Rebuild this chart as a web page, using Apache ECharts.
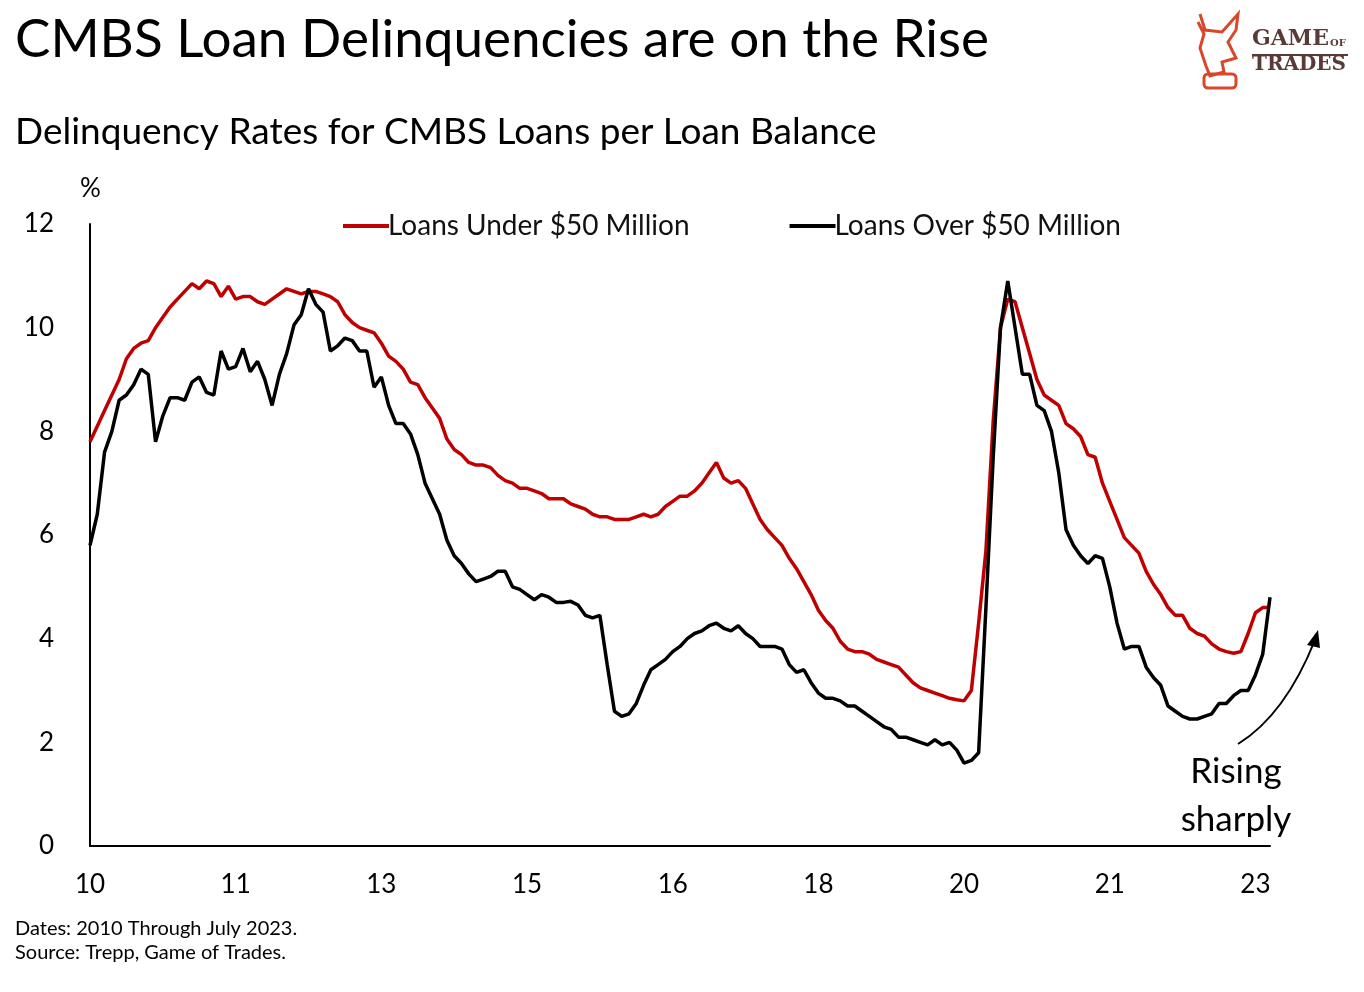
<!DOCTYPE html>
<html><head><meta charset="utf-8">
<script src="https://cdn.jsdelivr.net/npm/echarts@6/dist/echarts.min.js"></script>
<style>html,body{margin:0;padding:0;background:#fff}#c{width:1364px;height:992px}</style>
</head><body><div id="c"></div>
<script>
const tickLabels = {0:'10',20:'11',40:'13',60:'15',80:'16',100:'18',120:'20',140:'21',160:'23'};
const under50 = [7.8,8.1,8.4,8.7,9.0,9.4,9.6,9.7,9.75,10.0,10.2,10.4,10.55,10.7,10.85,10.75,10.9,10.85,10.6,10.8,
10.55,10.6,10.6,10.5,10.45,10.55,10.65,10.75,10.7,10.65,10.7,10.7,10.65,10.6,10.5,10.25,10.1,10.0,9.95,9.9,
9.7,9.45,9.35,9.2,8.95,8.9,8.65,8.45,8.25,7.85,7.65,7.55,7.4,7.35,7.35,7.3,7.15,7.05,7.0,6.9,
6.9,6.85,6.8,6.7,6.7,6.7,6.6,6.55,6.5,6.4,6.35,6.35,6.3,6.3,6.3,6.35,6.4,6.35,6.4,6.55,
6.65,6.75,6.75,6.85,7.0,7.2,7.4,7.1,7.0,7.05,6.9,6.6,6.3,6.1,5.95,5.8,5.55,5.35,5.1,4.85,
4.55,4.35,4.2,3.95,3.8,3.75,3.75,3.7,3.6,3.55,3.5,3.45,3.3,3.15,3.05,3.0,2.95,2.9,2.85,2.82,
2.8,3.0,4.3,5.7,8.2,10.0,10.55,10.5,10.0,9.5,9.0,8.7,8.6,8.5,8.15,8.05,7.9,7.55,7.5,7.0,
6.65,6.3,5.95,5.8,5.65,5.3,5.05,4.85,4.6,4.45,4.45,4.2,4.1,4.05,3.9,3.8,3.75,3.72,3.75,4.1,
4.5,4.6,4.6];
const over50 = [5.8,6.4,7.6,8.0,8.6,8.7,8.9,9.2,9.1,7.8,8.3,8.65,8.65,8.6,8.95,9.05,8.75,8.7,9.55,9.2,
9.25,9.6,9.15,9.35,9.0,8.5,9.1,9.5,10.05,10.25,10.75,10.45,10.3,9.55,9.65,9.8,9.75,9.55,9.55,8.85,
9.05,8.5,8.15,8.15,7.95,7.55,7.0,6.7,6.4,5.9,5.6,5.45,5.25,5.1,5.15,5.2,5.3,5.3,5.0,4.95,
4.85,4.75,4.85,4.8,4.7,4.7,4.72,4.65,4.45,4.4,4.45,3.5,2.6,2.5,2.55,2.75,3.1,3.4,3.5,3.6,
3.75,3.85,4.0,4.1,4.15,4.25,4.3,4.2,4.15,4.25,4.1,4.0,3.85,3.85,3.85,3.8,3.5,3.35,3.4,3.15,
2.95,2.85,2.85,2.8,2.7,2.7,2.6,2.5,2.4,2.3,2.25,2.1,2.1,2.05,2.0,1.95,2.05,1.95,2.0,1.85,
1.6,1.65,1.8,4.6,7.5,10.0,10.9,10.0,9.1,9.1,8.5,8.4,8.0,7.2,6.1,5.8,5.6,5.45,5.6,5.55,
5.0,4.3,3.8,3.85,3.85,3.45,3.25,3.1,2.7,2.6,2.5,2.45,2.45,2.5,2.55,2.75,2.75,2.9,3.0,3.0,
3.3,3.7,4.8];
const categories = under50.map((_, i) => i);
const F = 'Lato, "Noto Sans", sans-serif';
const chart = echarts.init(document.getElementById('c'));
chart.setOption({
  animation:false,
  textStyle:{fontFamily:F},
  grid:{left:90,right:94,top:224,bottom:146},
  legend:{top:207,left:338,itemGap:100,itemWidth:46,itemHeight:4,icon:'rect',
    textStyle:{fontSize:28,color:'#111',fontFamily:F,padding:[0,0,0,-6]},
    data:['Loans Under $50 Million','Loans Over $50 Million']},
  xAxis:{type:'category',data:categories,boundaryGap:false,
    axisLine:{lineStyle:{color:'#000',width:2}},axisTick:{show:false},
    axisLabel:{interval:19,fontSize:26,color:'#000',margin:26,fontFamily:F,formatter:v=>tickLabels[v]||''}},
  yAxis:{type:'value',min:0,max:12,interval:2,
    axisLine:{show:true,lineStyle:{color:'#000',width:2}},axisTick:{show:false},splitLine:{show:false},
    axisLabel:{fontSize:26,color:'#000',margin:36,fontFamily:F}},
  series:[
    {name:'Loans Under $50 Million',type:'line',data:under50,showSymbol:false,lineStyle:{color:'#c00000',width:3.5},itemStyle:{color:'#c00000'}},
    {name:'Loans Over $50 Million',type:'line',data:over50,showSymbol:false,lineStyle:{color:'#000',width:3.5},itemStyle:{color:'#000'}}
  ],
  graphic:[
    {type:'text',left:15,top:13,style:{text:'CMBS Loan Delinquencies are on the Rise',font:'53px '+F,fill:'#000'}},
    {type:'text',left:15,top:114,style:{text:'Delinquency Rates for CMBS Loans per Loan Balance',font:'37px '+F,fill:'#000'}},
    {type:'text',left:80,top:176,style:{text:'%',font:'26px '+F,fill:'#000'}},
    {type:'text',left:15,top:919,style:{text:'Dates: 2010 Through July 2023.',font:'20px '+F,fill:'#000'}},
    {type:'text',left:15,top:943,style:{text:'Source: Trepp, Game of Trades.',font:'20px '+F,fill:'#000'}},
    {type:'text',x:1236,y:748,style:{text:'Rising\nsharply',font:'35px '+F,fill:'#000',align:'center',lineHeight:48}},
    {type:'bezierCurve',shape:{x1:1238,y1:744,cpx1:1285,cpy1:715,x2:1315,y2:640},style:{stroke:'#000',lineWidth:2,fill:null}},
    {type:'polygon',shape:{points:[[1318,630],[1307,645],[1320,648]]},style:{fill:'#000'}},
    {type:'text',left:1252,top:28,style:{text:'GAME',font:'bold 22px "DejaVu Serif", "Liberation Serif", serif',fill:'#5a3a36'}},
    {type:'text',left:1330,top:38,style:{text:'OF',font:'bold 10px "DejaVu Serif", serif',fill:'#5a3a36'}},
    {type:'rect',shape:{x:1252,y:54,width:96,height:2},style:{fill:'#5a3a36'}},
    {type:'text',left:1252,top:55,style:{text:'TRADES',font:'bold 20px "DejaVu Serif", "Liberation Serif", serif',fill:'#5a3a36'}},
    {type:'polyline',shape:{points:[[1200,14],[1205,30],[1222,32],[1238,14],[1236,30],[1228,42],[1236,58],[1222,62],[1224,72],[1210,76],[1206,66],[1200,48],[1204,34],[1198,22]]},style:{stroke:'#d9472b',lineWidth:3,fill:null}},
    {type:'rect',shape:{x:1204,y:74,width:32,height:14,r:4},style:{stroke:'#d9472b',lineWidth:3,fill:null}}
  ]
});
</script></body></html>
